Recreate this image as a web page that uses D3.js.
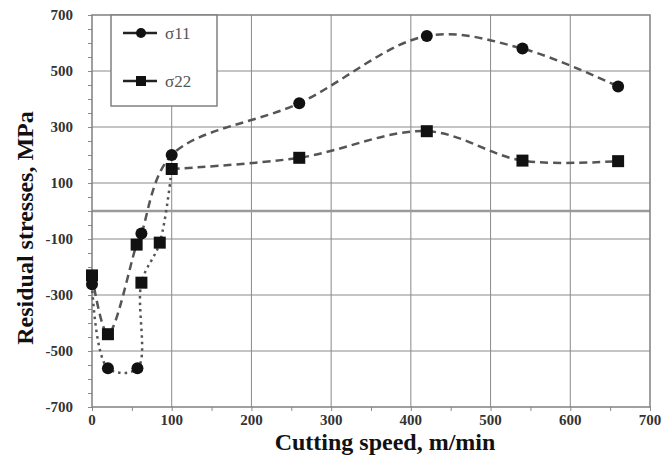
<!DOCTYPE html>
<html>
<head>
<meta charset="utf-8">
<script src="https://cdn.jsdelivr.net/npm/d3@7"></script>
<style>
  body { margin: 0; background: #fff; }
  text { font-family: "Liberation Serif", "DejaVu Serif", serif; }
</style>
</head>
<body>
<svg id="chart" width="662" height="457"></svg>
<script>
// long dashed curve (starts with squares, ends on sigma11 circles)
var speedA = [0, 20, 56, 62, 100, 260, 420, 540, 660];
var stressA = [-230, -440, -120, -80, 200, 385, 625, 580, 445];
var shapeA = ["sq", "sq", "sq", "c", "c", "c", "c", "c", "c"];

// dotted then dashed curve (starts with circles, ends on sigma22 squares)
var speedB = [0, 20, 57, 62, 85, 100, 260, 420, 540, 660];
var stressB = [-262, -562, -562, -256, -113, 150, 190, 285, 180, 178];
var shapeB = ["c", "c", "c", "sq", "sq", "sq", "sq", "sq", "sq", "sq"];
var dottedUntilB = 5; // index where the dotted part ends

var xTicks = [0, 100, 200, 300, 400, 500, 600, 700];
var yTicks = [-700, -500, -300, -100, 100, 300, 500, 700];
var legendNames = ["\u03c311", "\u03c322"];

var svg = d3.select("#chart");
var x = d3.scaleLinear().domain([0, 700]).range([92, 650]);
var y = d3.scaleLinear().domain([-700, 700]).range([407, 15]);

var lineCol = "#555", gridCol = "#8a8a8a";

// grid
svg.append("g").selectAll("line")
  .data(yTicks.filter(function(d) { return Math.abs(d) < 700; }))
  .enter().append("line")
    .attr("x1", x(0)).attr("x2", x(700))
    .attr("y1", function(d) { return y(d); }).attr("y2", function(d) { return y(d); })
    .attr("stroke", gridCol).attr("stroke-width", 1);
svg.append("g").selectAll("line")
  .data(xTicks.filter(function(d) { return d > 0 && d < 700; }))
  .enter().append("line")
    .attr("y1", y(-700)).attr("y2", y(700))
    .attr("x1", function(d) { return x(d); }).attr("x2", function(d) { return x(d); })
    .attr("stroke", gridCol).attr("stroke-width", 1);

// zero line
svg.append("line")
  .attr("x1", x(0)).attr("x2", x(700)).attr("y1", y(0)).attr("y2", y(0))
  .attr("stroke", "#9a9a9a").attr("stroke-width", 2.5);

// axes
var yAxis = d3.axisLeft(y).tickValues(d3.range(-700, 701, 50)).tickSize(4).tickFormat("");
var xAxis = d3.axisBottom(x).tickValues(d3.range(0, 701, 50)).tickSize(4).tickFormat("");
var gy = svg.append("g").attr("transform", "translate(" + x(0) + ",0)").call(yAxis);
var gx = svg.append("g").attr("transform", "translate(0," + y(-700) + ")").call(xAxis);
[gx, gy].forEach(function(g) {
  g.select(".domain").remove();
  g.selectAll(".tick line").attr("stroke", gridCol).attr("stroke-width", 1);
});

// frame
svg.append("rect")
  .attr("x", x(0)).attr("y", y(700))
  .attr("width", x(700) - x(0)).attr("height", y(-700) - y(700))
  .attr("fill", "none").attr("stroke", "#808080").attr("stroke-width", 1.5);

// tick labels
svg.append("g").selectAll("text").data(yTicks).enter().append("text")
  .attr("x", 73).attr("y", function(d) { return y(d) + 5; })
  .attr("text-anchor", "end")
  .attr("font-size", 15).attr("font-weight", "bold").attr("fill", "#333")
  .text(function(d) { return d; });
svg.append("g").selectAll("text").data(xTicks).enter().append("text")
  .attr("x", function(d) { return x(d); }).attr("y", 425)
  .attr("text-anchor", "middle")
  .attr("font-size", 15).attr("font-weight", "bold").attr("fill", "#333")
  .text(function(d) { return d; });

// axis titles
svg.append("text")
  .attr("x", 385).attr("y", 450)
  .attr("text-anchor", "middle")
  .attr("font-size", 24).attr("font-weight", "bold").attr("fill", "#111")
  .text("Cutting speed, m/min");
svg.append("text")
  .attr("transform", "translate(33,228) rotate(-90)")
  .attr("text-anchor", "middle")
  .attr("font-size", 24).attr("font-weight", "bold").attr("fill", "#111")
  .text("Residual stresses, MPa");

// curves
function pts(xs, ys) {
  return xs.map(function(d, i) { return [d, ys[i]]; });
}
var line = d3.line()
  .x(function(d) { return x(d[0]); })
  .y(function(d) { return y(d[1]); })
  .curve(d3.curveCatmullRom.alpha(0.5));

var dataA = pts(speedA, stressA);
var dataB = pts(speedB, stressB);

svg.append("path").datum(dataA).attr("d", line)
  .attr("fill", "none").attr("stroke", lineCol).attr("stroke-width", 2.5)
  .attr("stroke-dasharray", "8,5");
svg.append("path").datum(dataB.slice(0, dottedUntilB + 1)).attr("d", line)
  .attr("fill", "none").attr("stroke", lineCol).attr("stroke-width", 2.5)
  .attr("stroke-dasharray", "2.5,4");
svg.append("path").datum(dataB.slice(dottedUntilB)).attr("d", line)
  .attr("fill", "none").attr("stroke", lineCol).attr("stroke-width", 2.5)
  .attr("stroke-dasharray", "8,5");

function drawMarkers(data, shapes) {
  var g = svg.append("g");
  data.forEach(function(d, i) {
    if (shapes[i] == "c") {
      g.append("circle").attr("cx", x(d[0])).attr("cy", y(d[1])).attr("r", 6).attr("fill", "#111");
    } else {
      g.append("rect").attr("x", x(d[0]) - 6).attr("y", y(d[1]) - 6)
        .attr("width", 12).attr("height", 12).attr("fill", "#111");
    }
  });
}
drawMarkers(dataB, shapeB);
drawMarkers(dataA, shapeA);

// legend
var lg = svg.append("g");
lg.append("rect").attr("x", 111).attr("y", 15).attr("width", 106).attr("height", 91)
  .attr("fill", "#fff").attr("stroke", "#808080").attr("stroke-width", 1.5);
legendNames.forEach(function(name, i) {
  var ly = 33 + i * 48;
  lg.append("line").attr("x1", 123).attr("x2", 157).attr("y1", ly).attr("y2", ly)
    .attr("stroke", "#222").attr("stroke-width", 2.5);
  if (i == 0) {
    lg.append("circle").attr("cx", 141).attr("cy", ly).attr("r", 5).attr("fill", "#111");
  } else {
    lg.append("rect").attr("x", 136).attr("y", ly - 5).attr("width", 10).attr("height", 10).attr("fill", "#111");
  }
  lg.append("text").attr("x", 165).attr("y", ly + 6)
    .attr("font-size", 17).attr("fill", "#555").text(name);
});
</script>
</body>
</html>
